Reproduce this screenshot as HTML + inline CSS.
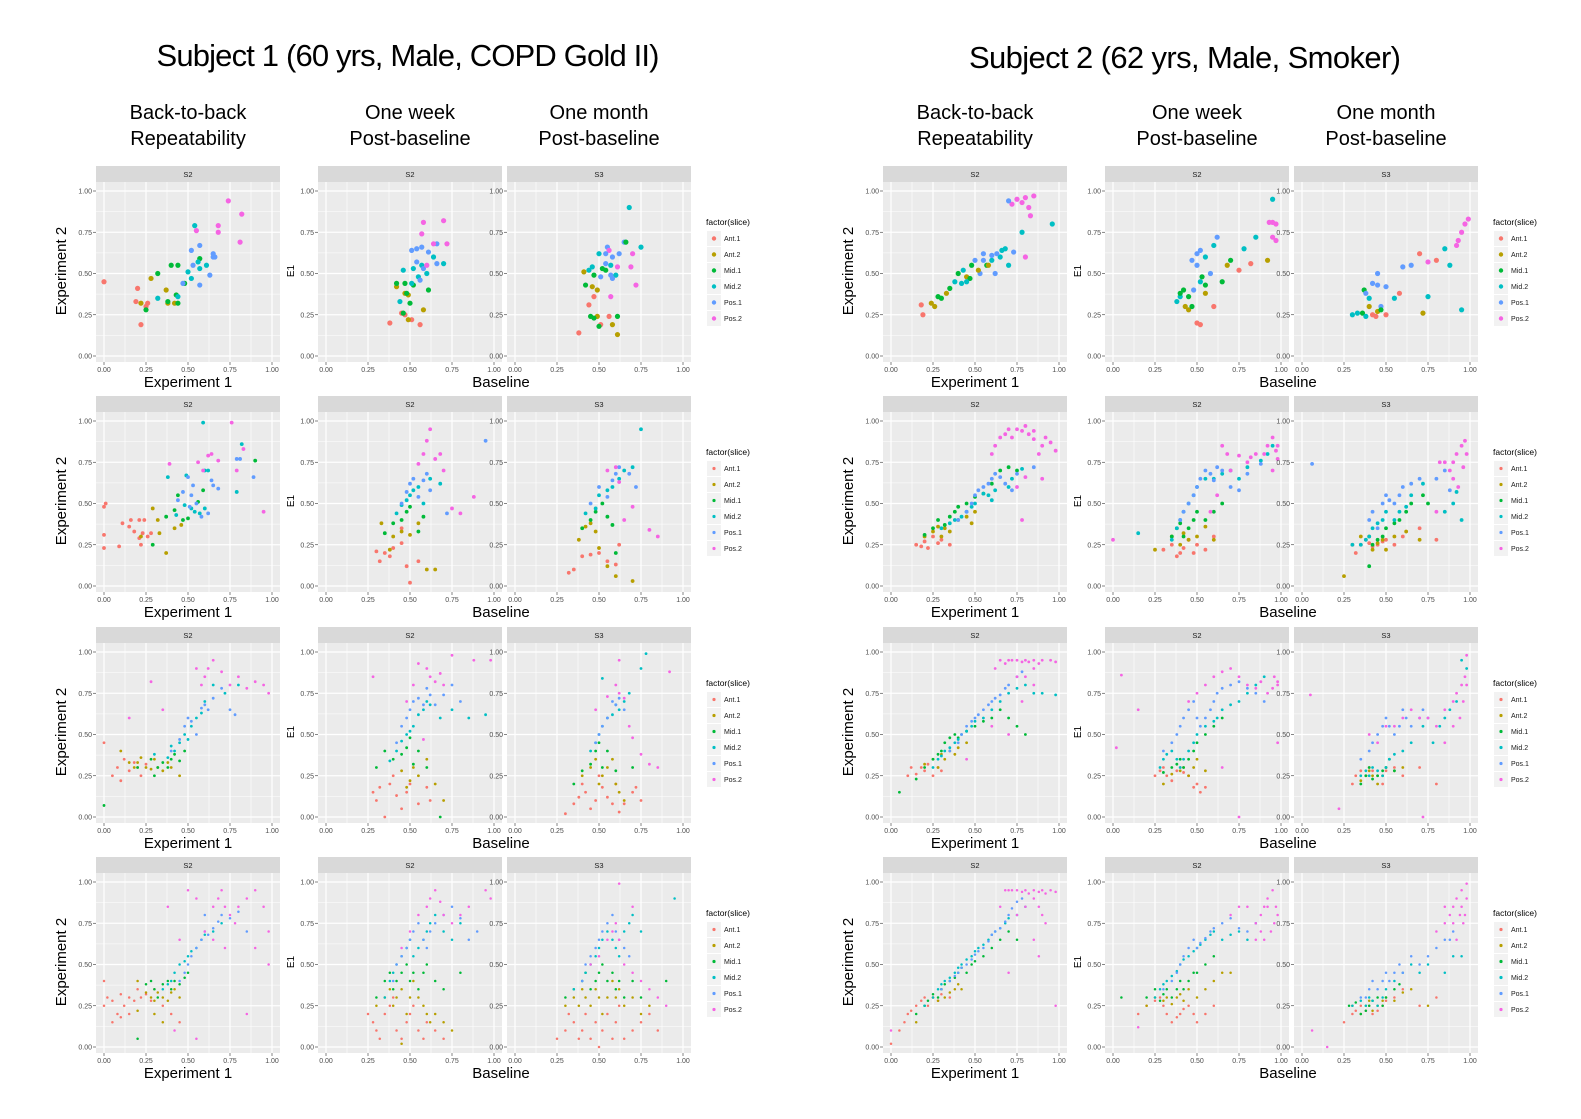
<!DOCTYPE html>
<html><head><meta charset="utf-8"><style>
html,body{margin:0;padding:0;background:#fff;}
svg{display:block;font-family:"Liberation Sans",sans-serif;}
</style></head><body>
<svg id="fig" width="1581" height="1119" viewBox="0 0 1581 1119" xmlns="http://www.w3.org/2000/svg">
<text x="408" y="66" font-size="31" text-anchor="middle" textLength="503">Subject 1 (60 yrs, Male, COPD Gold II)</text>
<text x="1185" y="68" font-size="31" text-anchor="middle" textLength="432">Subject 2 (62 yrs, Male, Smoker)</text>
<g id="panels"></g>
</svg>
<script>
const sliceNames = ["Ant.1","Ant.2","Mid.1","Mid.2","Pos.1","Pos.2"];
const sliceColors = ["#F8766D","#B79F00","#00BA38","#00BFC4","#619CFF","#F564E3"];
const tickValues = [0,0.25,0.5,0.75,1];
const tickLabels = ["0.00","0.25","0.50","0.75","1.00"];
const colHeads1 = ["Back-to-back","One week","One month"];
const colHeads2 = ["Repeatability","Post-baseline","Post-baseline"];
const stripLabels = ["S2","S2","S3"];

const s1r1c1 = "00450 20410 19330 26320 22190 25300 22321 28471 37401 38321 42321 25282 32502 40552 44552 38332 43372 44322 48442 57592 32353 44363 50513 52473 54793 56573 57533 61553 52644 53554 57674 57434 63494 65604 65624 66604 47444 55765 68795 68755 74945 81695 82865".split(" ");
const s1r1c2 = "38200 45260 47250 51220 56190 42421 47381 49221 49371 58281 42442 46262 47442 48382 50322 52432 61402 44333 46523 51443 52533 55483 57553 60503 70563 64603 51644 54654 54574 56464 57664 58534 61634 66564 66684 57745 58815 60555 70825 72685 64685".split(" ");
const s1r1c3 = "68903 65694 66692 75663 55664 56645 50623 54624 62624 58604 70625 54564 52532 54522 57553 61545 69545 46543 44523 41511 47492 51484 57494 60493 58474 72435 42432 46421 49401 47360 57365 44310 49241 45242 47232 56240 61242 51190 50182 58191 38140 61131".split(" ");
const s1r2c1 = "00480 01500 00310 00230 09240 11380 16400 18330 21400 24400 22250 26300 28320 21290 23320 15360 22301 29471 32401 33321 42351 46371 37201 29252 37422 42462 44552 47402 50412 56512 59582 38663 43433 48493 52473 60473 54453 57443 49673 60703 62703 82863 79573 59993 44524 47574 50664 52554 53614 55504 58424 62444 64644 65614 68594 79774 81774 89664 39745 56755 59705 62795 64805 68765 79705 83835 95455 76995 90762 51484".split(" ");
const s1r2c2 = "30210 32150 35200 38180 40230 45260 48120 50020 55150 45350 33381 38221 40301 45331 50311 55381 60101 65101 35322 40382 45402 48452 50482 55332 58422 42443 45493 48523 50553 52583 55603 58503 62653 68623 45504 48574 50624 52654 55544 58644 60684 62584 72444 95884 55745 58805 60885 62955 65775 68805 70705 75475 88545 80445".split(" ");
const s1r2c3 = "32080 35100 40180 45190 50200 55150 60130 62250 38281 42361 45381 48331 50231 55121 70031 60061 40352 45402 48452 52502 55422 58372 60202 42443 48473 50553 55583 58603 62653 65703 70723 75953 45504 50604 55544 58644 60684 62724 68684 72604 55705 60725 62635 65405 70485 80345 85305".split(" ");
const s1r3c1 = "00450 05250 08300 10220 12350 15280 18330 20300 22250 25320 10401 15331 18301 20331 22361 25301 28291 30351 32301 35281 38331 40301 45251 20302 28352 30252 32302 35332 38302 40352 42382 45342 48402 00072 30383 38363 40433 42403 45453 48503 50473 52553 55603 58633 60703 65803 72753 80803 40404 45474 48554 50604 52584 55504 58664 60684 62654 65724 70784 75654 78624 55905 60855 62905 65955 70885 75805 80855 85785 90825 95805 98755 58805 35655 28825 15605".split(" ");
const s1r3c2 = "28150 30100 32180 35000 38200 40250 42130 45050 48150 50200 55080 60180 62100 45281 48181 50221 52301 55251 60351 65201 70101 30302 35402 40352 45382 48422 50482 52322 55402 60302 68002 38343 42403 45463 48503 50523 52553 55623 58653 60703 62683 68603 75653 85603 95623 42454 45554 48604 50654 52704 55724 58684 60784 62744 65684 70744 75804 80704 48705 52805 55935 60905 62855 65825 68875 70805 75985 88955 28855 58475 98955".split(" ");
const s1r3c3 = "30020 35080 38120 40200 42150 45050 48100 50250 52180 55120 58080 60200 62030 65080 70150 72180 75100 40251 45301 48351 50201 52251 55301 58351 60201 62151 65101 35202 40282 45322 48402 50452 52302 55402 60282 70302 45403 48453 50503 52553 55603 58623 60683 62653 65703 68753 52843 75903 78993 48454 50504 52554 55604 58704 60684 62724 65654 48655 55735 60805 62755 65725 68555 70485 75385 80325 85305 62955 92885".split(" ");
const s1r4c1 = "00250 02300 05280 08200 10320 12250 15300 18280 20350 22300 25320 28280 30350 35250 40200 45150 10180 15200 05150 00400 20401 25331 28301 30281 32331 35301 38281 40331 42351 45301 30201 35151 20221 25382 28402 30352 32302 35382 38402 40352 42402 45382 48422 50452 20052 35353 38383 40403 42453 45503 48523 50553 52583 55603 58653 60683 65703 70753 45404 48454 50504 52554 55604 58654 60704 62684 65724 68764 70804 75784 80824 85704 60804 65855 68905 70955 72855 75805 78755 80855 85905 90955 95855 98705 60705 55905 50955 65655 72605 90605 45655 38855 55055 42105 85205 98505".split(" ");
const s1r4c2 = "25200 28150 30100 32050 35200 38250 40300 42100 45050 48150 50200 52250 55100 58050 60150 65100 70050 45021 30251 35301 38351 40251 42301 45351 48201 50301 52401 55301 58251 60201 62151 65201 70151 75101 30302 35402 38452 40352 42402 45452 48502 50402 52452 55352 58452 60502 65402 70352 80452 35303 38403 40453 42503 45553 48603 50653 52553 55603 58653 60703 62753 65803 70703 75653 80753 40404 42504 45554 48604 50654 52704 55754 58654 60604 62704 65754 70804 75854 80784 85654 90704 45605 50705 55805 60855 62905 65955 68885 70805 75755 80805 85855 95955 98905".split(" ");
const s1r4c3 = "25050 30100 32200 35150 38050 40100 42200 45050 48150 50000 52100 55200 58050 60150 62250 65050 70100 75150 80200 85100 30251 35301 38251 40351 42301 45251 48351 50301 52201 55301 58401 60301 62351 65251 70301 75201 80251 30302 35352 40402 42452 45352 48402 50452 52502 55402 58452 60352 62402 65302 70402 75302 90402 35353 40403 42453 45503 48553 50603 52653 55703 58653 60603 62553 65703 68753 70803 75703 95903 40404 42504 45554 48604 50654 52704 55754 58804 60704 62654 65604 68554 45505 50555 55655 58705 60755 62655 65505 70455 75405 80355 85305 90255 62995 70855".split(" ");

const s2r1c1 = "19250 18310 24321 26301 30352 35412 38453 40502 43523 45481 48552 50584 53504 55624 57552 60583 62504 65603 68653 70553 72925 75955 78935 80965 82905 83855 85975 78753 80605 96803 73634 58551 52521 47472 45453 42443 33381 28362 55584 60614 63624 66643 70944".split(" ");
const s2r1c2 = "40363 38333 43301 45281 47302 50200 52190 55432 48404 45362 40382 52453 53482 50554 55603 60673 62724 47584 50624 52644 60300 68551 70582 75520 78653 82560 85723 95953 93815 95815 97805 95725 97705 92581 65452 58504 55381 42402".split(" ");
const s2r1c3 = "30253 33263 36262 37402 38384 40353 40301 42250 44240 45271 47304 50424 45434 55353 58380 60544 65554 70620 75575 80580 85653 88553 93705 95755 97805 99835 92675 95283 75363 72261 45504 42444 47282 38243 50250".split(" ");
const s2r2c1 = "15250 18240 20270 22230 25300 28260 30280 35250 20301 25331 28361 30301 32351 35331 40401 45421 48381 50451 20312 25352 28402 32372 35422 38452 40482 45502 50542 55562 60622 65702 70722 75702 30353 35383 38403 42423 45453 48483 50503 55563 58553 60523 62583 70603 72653 78713 40404 45454 48504 50554 52584 55604 58624 60654 62684 65664 68624 72584 75684 85724 60805 62855 65905 68925 70955 72905 75955 78945 80975 82925 85945 85895 88805 90855 92905 95875 98825 75605 80665 78405 90655".split(" ");
const s2r2c2 = "30220 35250 38180 40200 42230 45280 48200 50250 55220 60300 25221 35301 40251 42321 45281 50301 55361 60281 35302 38352 40382 42302 45352 48402 50452 55402 60452 65502 35283 38353 40403 42453 45503 48553 50603 55653 60653 65683 70703 75653 80723 88763 92803 95853 15323 40404 42454 45504 48554 50604 52654 55704 58684 60644 62724 65704 70604 75584 80684 88744 90805 92855 95905 98855 97825 98775 95705 85805 82785 80755 75795 70705 68805 65855 62555 58455 00285".split(" ");
const s2r2c3 = "30250 32200 35250 38280 40260 42240 45250 48270 50280 55250 60300 70350 80280 25061 35301 40301 42221 45261 48281 50221 55301 62331 70281 40122 42252 45282 48302 50352 55382 58402 62452 65502 72552 75502 30253 35253 38283 40303 42353 45383 48403 50453 55403 58453 62483 65553 72623 85453 90503 92573 95403 40404 42454 45354 48504 50554 52524 55504 58554 60604 65624 70654 80654 85704 88584 85755 88705 90755 92805 95855 97885 98805 96725 93605 90655 82755 80455 06744".split(" ");
const s2r3c1 = "10250 12300 15260 18300 20280 22320 25250 28300 30280 20321 25351 28301 30381 32351 35401 38381 40421 45451 05152 15232 20302 25352 28382 30402 32452 35482 38502 40482 45522 50552 55582 60602 65652 70602 75552 80502 25303 28353 30373 32403 35423 38453 40473 42503 45523 48553 50583 55603 60653 65703 70753 75783 80803 85753 90753 98743 35404 40454 42504 45554 48584 50604 52624 55654 58684 60704 62724 65744 68784 70804 75854 78884 70505 62905 65955 68935 70955 72955 75955 78945 80955 82945 85955 88935 90955 95955 98945 75855 80855 85905 85805 78705 60555 45355".split(" ");
const s2r3c2 = "25250 28280 30300 32250 35220 38280 40300 42270 45250 48180 50200 52150 55180 30201 35261 40281 42301 45251 48301 50351 55281 30272 35302 38322 40352 42302 45352 48402 50452 55502 60552 65602 28303 30353 32383 35403 38353 40303 42353 45403 48453 50503 55553 60583 62603 65653 70683 75703 80753 85803 90853 30404 35454 38504 40554 42604 45654 48704 50604 52554 55604 58654 60704 62754 65784 70804 75824 80784 85754 90704 45705 50755 55805 60855 65885 70905 75855 80805 85785 88825 92755 95785 98805 96855 98825 05865 15655 02425 98455 75005 65305".split(" ");
const s2r3c3 = "30200 32250 35280 38250 40300 42280 45250 48200 50280 55300 60250 70300 80200 35221 38251 40281 42251 45201 48251 50301 55281 60301 35202 38252 40302 42232 45252 48282 50302 52352 55282 35253 38283 40253 42303 45283 48253 50303 52353 55383 60403 65453 72553 78453 82553 85603 88653 92703 95953 98903 35354 40404 42454 45504 48554 50604 52554 55504 58554 60654 62604 65554 70604 72654 75604 40505 45455 50555 55555 60605 65655 70605 75605 80555 85655 90705 92755 95805 97855 98805 96705 94605 90555 85455 05745 98985 72005 22055".split(" ");
const s2r4c1 = "00020 05100 08150 10200 12220 15250 18280 20300 22250 25300 28280 30320 35300 15151 20251 25301 28281 30351 32301 35331 38351 40381 42351 15202 20252 22282 25322 28302 30352 32382 35402 38422 40452 42482 45452 48502 50522 55552 60602 65652 70702 75652 20253 25303 28353 30383 32403 35423 38453 40483 42503 45533 48553 50583 52603 55623 58653 60683 62703 65723 68753 70783 75803 80853 30354 35404 38434 40454 42484 45504 48534 50564 52584 55604 58644 60684 62704 65724 68764 70804 72844 75884 78904 65855 68955 70955 72955 75955 78945 80955 82935 85955 88945 90955 92935 95955 98945 75805 80855 85905 88855 90805 92755 85655 88555 70455 98255 00105".split(" ");
const s2r4c2 = "15200 20250 25280 28300 30250 32200 35150 38180 40200 42230 45250 48200 50150 55200 60250 20251 25301 30281 32301 35261 38301 40321 42281 45351 50301 55351 60401 65451 70451 20302 25352 28282 30322 32352 35302 38352 40402 42352 45402 48452 50452 55502 60552 05302 25303 28353 30383 32403 35433 38463 40503 42533 45553 48583 50603 52623 55653 58683 60703 65653 70683 75703 80653 85753 30354 35404 38454 40504 42554 45604 48654 50604 52634 55664 58704 60724 65754 70784 75724 80704 85754 70805 75855 80855 85755 88805 90855 92905 95955 97855 98805 96755 94705 92855 88705 90655 85655 15125".split(" ");
const s2r4c3 = "25150 30200 32220 35250 38220 40250 42200 45220 48250 50280 55300 60350 70250 80300 30251 35201 38251 40281 42221 45251 48281 50301 55281 60331 65351 75251 28252 32272 35202 38222 40252 42282 45302 48252 50302 55352 58382 30253 35283 38253 40303 42283 45253 48303 50353 55403 60453 65503 70453 75503 85453 90553 95553 35304 38304 40354 42404 45354 48404 50454 52404 55454 58504 60454 65554 70504 75554 80604 85654 88654 90704 80705 85755 88805 90855 92905 95855 97805 98905 96755 94805 90755 85855 95955 98995 92655 06105 15005".split(" ");

const panelData = [
 [[s1r1c1,s1r1c2,s1r1c3],[s1r2c1,s1r2c2,s1r2c3],[s1r3c1,s1r3c2,s1r3c3],[s1r4c1,s1r4c2,s1r4c3]],
 [[s2r1c1,s2r1c2,s2r1c3],[s2r2c1,s2r2c2,s2r2c3],[s2r3c1,s2r3c2,s2r3c3],[s2r4c1,s2r4c2,s2r4c3]]
];

const NS = "http://www.w3.org/2000/svg";
const root = document.getElementById('panels');
function mk(tag, attrs, parent, txt){
  const e = document.createElementNS(NS, tag);
  for (const k in attrs) e.setAttribute(k, attrs[k]);
  if (txt !== undefined) e.textContent = txt;
  (parent || root).appendChild(e);
  return e;
}
const SHIFT = 787;
const colX = [96, 318, 507];
const PW = 184;
const radii = [2.6, 1.9, 1.4, 1.25];

for (let s = 0; s < 2; s++) {
  const ox = s * SHIFT;
  // column headers
  for (let c = 0; c < 3; c++) {
    const cx = ox + colX[c] + PW / 2;
    const h1 = mk('text', {x: cx, y: 119, 'font-size': 20, 'text-anchor': 'middle'}, null, colHeads1[c]);
    
    
    const h2 = mk('text', {x: cx, y: 145, 'font-size': 20, 'text-anchor': 'middle'}, null, colHeads2[c]);
    
    
  }
  for (let r = 0; r < 4; r++) {
    const top = Math.round(166 + r * 230.3);
    const ptop = top + 16;
    const pbot = top + 196;
    for (let c = 0; c < 3; c++) {
      const left = ox + colX[c];
      const g = mk('g', {});
      
      
      const xs = v => left + 8 + v * 168;
      const ys = v => top + 25 + (1 - v) * 165;
      const strip = mk('rect', {x: left, y: top, width: PW, height: 16, fill: '#D9D9D9'}, g);
      
      
      const st = mk('text', {x: left + PW / 2, y: top + 11, 'font-size': 7.5, fill: '#1A1A1A', 'text-anchor': 'middle'}, g, stripLabels[c]);
      
      
      const bg = mk('rect', {x: left, y: ptop, width: PW, height: 180, fill: '#EBEBEB'}, g);
      
      
      for (let i = 0; i < 4; i++) {
        const m = tickValues[i] + 0.125;
        mk('line', {x1: xs(m), x2: xs(m), y1: ptop, y2: ptop + 180, stroke: '#fff', 'stroke-width': 0.6}, g);
        mk('line', {x1: left, x2: left + PW, y1: ys(m), y2: ys(m), stroke: '#fff', 'stroke-width': 0.6}, g);
      }
      tickValues.forEach((t, i) => {
        mk('line', {x1: xs(t), x2: xs(t), y1: ptop, y2: ptop + 180, stroke: '#fff', 'stroke-width': 1.2}, g);
        mk('line', {x1: left, x2: left + PW, y1: ys(t), y2: ys(t), stroke: '#fff', 'stroke-width': 1.2}, g);
        mk('line', {x1: xs(t), x2: xs(t), y1: ptop + 180, y2: ptop + 183, stroke: '#333', 'stroke-width': 0.6}, g);
        mk('line', {x1: left - 3, x2: left, y1: ys(t), y2: ys(t), stroke: '#333', 'stroke-width': 0.6}, g);
        const xl = mk('text', {x: xs(t), y: ptop + 190, 'font-size': 7, fill: '#4D4D4D', 'text-anchor': 'middle'}, g, tickLabels[i]);
        
        
        const yl = mk('text', {x: left - 4, y: ys(t) + 2.5, 'font-size': 7, fill: '#4D4D4D', 'text-anchor': 'end'}, g, tickLabels[i]);
        
        
      });
      const pts = panelData[s][r][c];
      for (const tk of pts) {
        const xv = +tk.slice(0, 2) / 100, yv = +tk.slice(2, 4) / 100, k = +tk[4];
        const p = mk('circle', {cx: xs(xv), cy: ys(yv), r: radii[r], fill: sliceColors[k]}, g);
        
        
      }
    }
    // axis titles
    const ytl = mk('text', {x: 0, y: 0, 'font-size': 15, 'text-anchor': 'middle', transform: `translate(${ox + 66},${top + 105}) rotate(-90)`}, null, 'Experiment 2');
    
    
    const ye = mk('text', {x: 0, y: 0, 'font-size': 10, 'text-anchor': 'middle', transform: `translate(${ox + 294},${top + 105}) rotate(-90)`}, null, 'E1');
    
    
    const xt1 = mk('text', {x: ox + 188, y: top + 221, 'font-size': 15, 'text-anchor': 'middle'}, null, 'Experiment 1');
    
    
    const xt2 = mk('text', {x: ox + 501, y: top + 221, 'font-size': 15, 'text-anchor': 'middle'}, null, 'Baseline');
    
    
    // legend
    const lx = ox + 707;
    const lg = mk('g', {});
    
    
    const lt = mk('text', {x: lx - 1, y: top + 59, 'font-size': 8.5, fill: '#000'}, lg, 'factor(slice)');
    
    
    sliceNames.forEach((n, i) => {
      const ey = top + 65 + i * 16;
      mk('rect', {x: lx, y: ey, width: 14, height: 15, fill: '#F2F2F2'}, lg);
      mk('circle', {cx: lx + 7, cy: ey + 7.5, r: radii[r] > 2 ? 2.2 : 1.6, fill: sliceColors[i]}, lg);
      const et = mk('text', {x: lx + 17, y: ey + 10, 'font-size': 7, fill: '#1A1A1A'}, lg, n);
      
      
    });
  }
}
</script>
</body></html>
